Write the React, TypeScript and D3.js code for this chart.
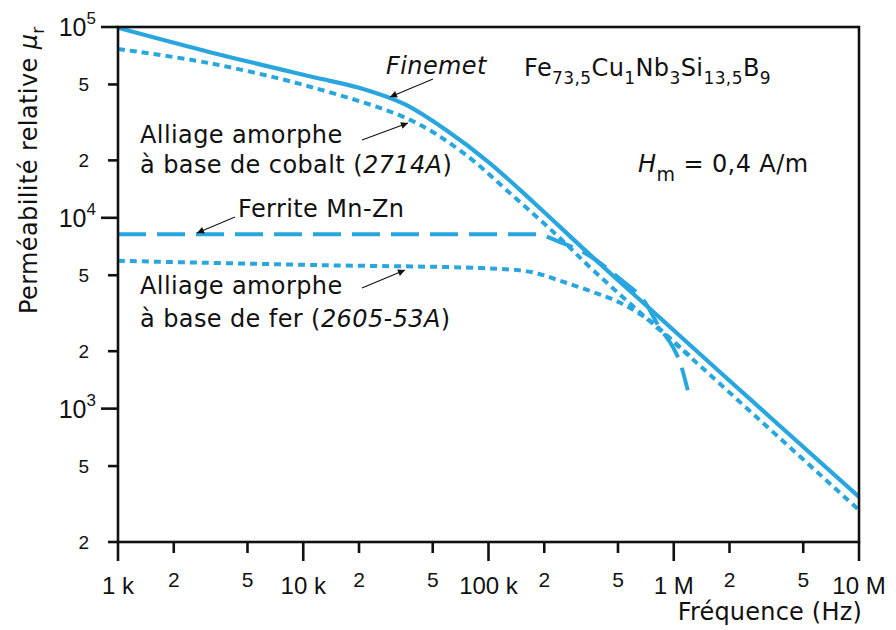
import * as d3 from 'd3';

// Frequency (Hz) / relative permeability readings for each material
const finemetFreq = [1e3, 3.1e3, 1.1e4, 2.0e4, 3.5e4, 6.0e4, 1.0e5, 1.76e5, 3.5e5, 8.4e5, 1.78e6, 1e7];
const finemetMu = [99000, 74000, 55000, 48000, 39500, 28500, 19600, 12000, 6450, 3000, 1550, 345];

const cobaltFreq = [1e3, 3.1e3, 1.1e4, 3.8e4, 7.3e4, 1.36e5, 2.34e5, 3.66e5, 6.8e5, 1.18e6, 1.78e6, 1e7];
const cobaltMu = [76700, 64700, 48500, 32500, 21900, 13000, 8100, 5330, 3100, 1930, 1345, 294];

const ferriteFreq = [1e3, 1.8e5, 2.4e5, 3.4e5, 5.1e5, 7.0e5, 8.4e5, 9.9e5, 1.08e6, 1.19e6];
const ferriteMu = [8200, 8200, 7500, 6450, 4800, 3600, 2650, 2100, 1750, 1250];

// joins the cobalt curve at about 1.2 MHz
const ironFreq = [1e3, 1.2e4, 9e4, 1.7e5, 2.4e5, 3.5e5, 5.1e5, 7.4e5, 9.5e5, 1.22e6];
const ironMu = [5950, 5650, 5450, 5200, 4700, 4150, 3600, 2900, 2350, 1890];

// Axis ticks
const xMajor = [1e3, 1e4, 1e5, 1e6, 1e7];
const xMajorLabels = ['1 k', '10 k', '100 k', '1 M', '10 M'];
const xMinor = [2e3, 5e3, 2e4, 5e4, 2e5, 5e5, 2e6, 5e6];
const yMajor = [1e3, 1e4, 1e5];
const yMajorExp = ['3', '4', '5'];
const yMinor = [200, 500, 2000, 5000, 20000, 50000];

const W = 896;
const H = 630;
const margin = { top: 27, right: 37, bottom: 88, left: 118 };
const blue = '#2aa6df';
const textFont = '"DejaVu Sans", sans-serif';
const tickFont = '"Liberation Sans", Arial, sans-serif';

export default function App() {
  const x = d3.scaleLog().domain([1e3, 1e7]).range([margin.left, W - margin.right]);
  const y = d3.scaleLog().domain([200, 1e5]).range([H - margin.bottom, margin.top]);

  const smooth = d3
    .line<[number, number]>()
    .x((d) => x(d[0]))
    .y((d) => y(d[1]))
    .curve(d3.curveCatmullRom.alpha(0.5));

  // ferrite has a flat stretch, monotone keeps it from bulging
  const mono = d3
    .line<[number, number]>()
    .x((d) => x(d[0]))
    .y((d) => y(d[1]))
    .curve(d3.curveMonotoneX);

  const zip = (f: number[], m: number[]) => f.map((v, i) => [v, m[i]] as [number, number]);

  const x0 = x.range()[0];
  const x1 = x.range()[1];
  const y0 = y.range()[0];
  const y1 = y.range()[1];

  return (
    <svg
      width={W}
      height={H}
      style={{ position: 'absolute', left: 0, top: 0, background: '#fff' }}
    >
      <defs>
        <marker
          id="arr"
          viewBox="0 0 10 10"
          refX="10"
          refY="5"
          markerWidth="11"
          markerHeight="7"
          markerUnits="userSpaceOnUse"
          orient="auto"
        >
          <path d="M0,0 L10,5 L0,10 z" fill="#111" />
        </marker>
      </defs>

      {/* curves */}
      <path d={smooth(zip(ironFreq, ironMu)) || ''} fill="none" stroke={blue} strokeWidth={4} strokeDasharray="7,5" />
      <path d={smooth(zip(cobaltFreq, cobaltMu)) || ''} fill="none" stroke={blue} strokeWidth={4} strokeDasharray="7,5" />
      <path d={mono(zip(ferriteFreq, ferriteMu)) || ''} fill="none" stroke={blue} strokeWidth={4} strokeDasharray="28,11" />
      <path d={smooth(zip(finemetFreq, finemetMu)) || ''} fill="none" stroke={blue} strokeWidth={4.2} />

      {/* frame */}
      <rect x={x0} y={y1} width={x1 - x0} height={y0 - y1} fill="none" stroke="#111" strokeWidth={2.6} />

      {/* x ticks */}
      {xMajor.map((v, i) => (
        <g key={'xM' + v}>
          <line x1={x(v)} x2={x(v)} y1={y0} y2={y0 + 19} stroke="#111" strokeWidth={2.6} />
          <text x={x(v)} y={y0 + 52} textAnchor="middle" fontFamily={tickFont} fontSize={24} fill="#111">
            {xMajorLabels[i]}
          </text>
        </g>
      ))}
      {xMinor.map((v) => (
        <g key={'xm' + v}>
          <line x1={x(v)} x2={x(v)} y1={y0} y2={y0 + 11} stroke="#111" strokeWidth={2.6} />
          <text x={x(v)} y={y0 + 45} textAnchor="middle" fontFamily={tickFont} fontSize={21} fill="#111">
            {String(v).charAt(0)}
          </text>
        </g>
      ))}

      {/* y ticks */}
      {yMajor.map((v, i) => (
        <g key={'yM' + v}>
          <line x1={x0 - 17} x2={x0} y1={y(v)} y2={y(v)} stroke="#111" strokeWidth={2.6} />
          <text x={x0 - 22} y={y(v) + 9} textAnchor="end" fontFamily={tickFont} fontSize={25} fill="#111">
            10
            <tspan dy={-12} fontSize={17}>
              {yMajorExp[i]}
            </tspan>
          </text>
        </g>
      ))}
      {yMinor.map((v) => (
        <g key={'ym' + v}>
          <line x1={x0 - 10} x2={x0} y1={y(v)} y2={y(v)} stroke="#111" strokeWidth={2.6} />
          <text x={x0 - 29} y={y(v) + 7} textAnchor="end" fontFamily={tickFont} fontSize={19} fill="#111">
            {String(v).charAt(0)}
          </text>
        </g>
      ))}

      {/* axis titles */}
      <text x={862} y={620} textAnchor="end" fontFamily={textFont} fontSize={24} letterSpacing={0.2} fill="#111">
        Fréquence (Hz)
      </text>
      <text
        transform="translate(37,314) rotate(-90)"
        fontFamily={textFont}
        fontSize={24}
        letterSpacing={0.4}
        fill="#111"
      >
        Perméabilité relative <tspan fontStyle="italic">μ</tspan>
        <tspan dy={7} fontSize={17}>r</tspan>
      </text>

      {/* annotations */}
      <g fontFamily={textFont} fontSize={24} letterSpacing={0.4} fill="#111">
        <text x={386} y={74} fontStyle="italic">Finemet</text>
        <text x={524} y={76}>
          Fe<tspan dy={8} fontSize={17}>73,5</tspan>
          <tspan dy={-8}>Cu</tspan>
          <tspan dy={8} fontSize={17}>1</tspan>
          <tspan dy={-8}>Nb</tspan>
          <tspan dy={8} fontSize={17}>3</tspan>
          <tspan dy={-8}>Si</tspan>
          <tspan dy={8} fontSize={17}>13,5</tspan>
          <tspan dy={-8}>B</tspan>
          <tspan dy={8} fontSize={17}>9</tspan>
        </text>
        <text x={638} y={172}>
          <tspan fontStyle="italic">H</tspan>
          <tspan dy={9} fontSize={19}>m</tspan>
          <tspan dy={-9}> = 0,4 A/m</tspan>
        </text>

        <text x={140} y={143}>Alliage amorphe</text>
        <text x={140} y={173}>
          à base de cobalt (<tspan fontStyle="italic">2714A</tspan>)
        </text>

        <text x={238} y={217}>Ferrite Mn-Zn</text>

        <text x={140} y={294}>Alliage amorphe</text>
        <text x={140} y={327}>
          à base de fer (<tspan fontStyle="italic">2605-53A</tspan>)
        </text>
      </g>

      {/* leader arrows */}
      <g stroke="#111" strokeWidth={1.1} markerEnd="url(#arr)">
        <line x1={433} y1={79} x2={390} y2={97} />
        <line x1={362} y1={140} x2={408} y2={123} />
        <line x1={235} y1={217} x2={197} y2={233} />
        <line x1={362} y1={288} x2={405} y2={270} />
      </g>
    </svg>
  );
}
